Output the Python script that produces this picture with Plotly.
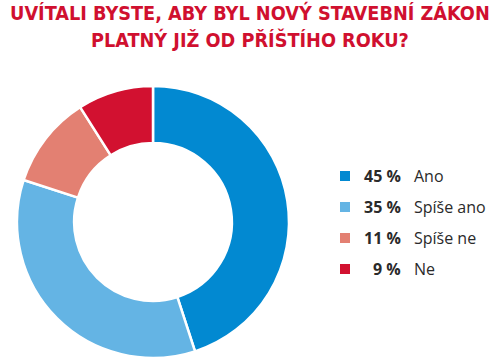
import plotly.graph_objects as go

labels = ["Ano", "Spíše ano", "Spíše ne", "Ne"]
values = [45, 35, 11, 9]
colors = ["#0289D1", "#64B4E4", "#E38072", "#D21130"]
title_lines = ["UVÍTALI BYSTE, ABY BYL NOVÝ STAVEBNÍ ZÁKON", "PLATNÝ JIŽ OD PŘÍŠTÍHO ROKU?"]

W, H = 500, 359

fig = go.Figure()
fig.add_trace(go.Pie(
    labels=labels, values=values, hole=0.58, sort=False, direction="clockwise",
    rotation=0, marker=dict(colors=colors, line=dict(color="white", width=2.5)),
    textinfo="none", hoverinfo="label+percent", showlegend=False,
    domain=dict(x=[17 / W, 289 / W], y=[1 / H, 273 / H]),
))

annotations = []
title_font = dict(family="DejaVu Sans Condensed, Liberation Sans Narrow, sans-serif", size=19.7, color="#D0102F")
for i, line in enumerate(title_lines):
    annotations.append(dict(
        text=f"<b>{line}</b>", x=0.5, y=1 - (13 + i * 27) / H, xref="paper", yref="paper",
        xanchor="center", yanchor="middle", showarrow=False, font=title_font,
    ))
shapes = []
y0 = 176
step = 31
for i, (lab, val, col) in enumerate(zip(labels, values, colors)):
    yc = 1 - (y0 + i * step) / H
    shapes.append(dict(type="rect", xref="paper", yref="paper",
                       x0=340 / W, x1=350 / W, y0=yc - 5 / H, y1=yc + 5 / H,
                       fillcolor=col, line=dict(width=0)))
    annotations.append(dict(text=f"<b>{val} %</b>", x=403 / W, y=yc, xref="paper", yref="paper",
                            xanchor="right", yanchor="middle", showarrow=False,
                            font=dict(family="Open Sans, sans-serif", size=16, color="#2a2a2a")))
    annotations.append(dict(text=lab, x=412 / W, y=yc, xref="paper", yref="paper",
                            xanchor="left", yanchor="middle", showarrow=False,
                            font=dict(family="Open Sans, sans-serif", size=16, color="#2a2a2a")))

fig.update_layout(
    width=W, height=H, margin=dict(l=0, r=0, t=0, b=0),
    paper_bgcolor="white", plot_bgcolor="white",
    annotations=annotations, shapes=shapes,
)
fig.write_html("out.html", config={"displayModeBar": False},
               post_script="document.body.style.margin='0';document.body.style.overflow='hidden';")
